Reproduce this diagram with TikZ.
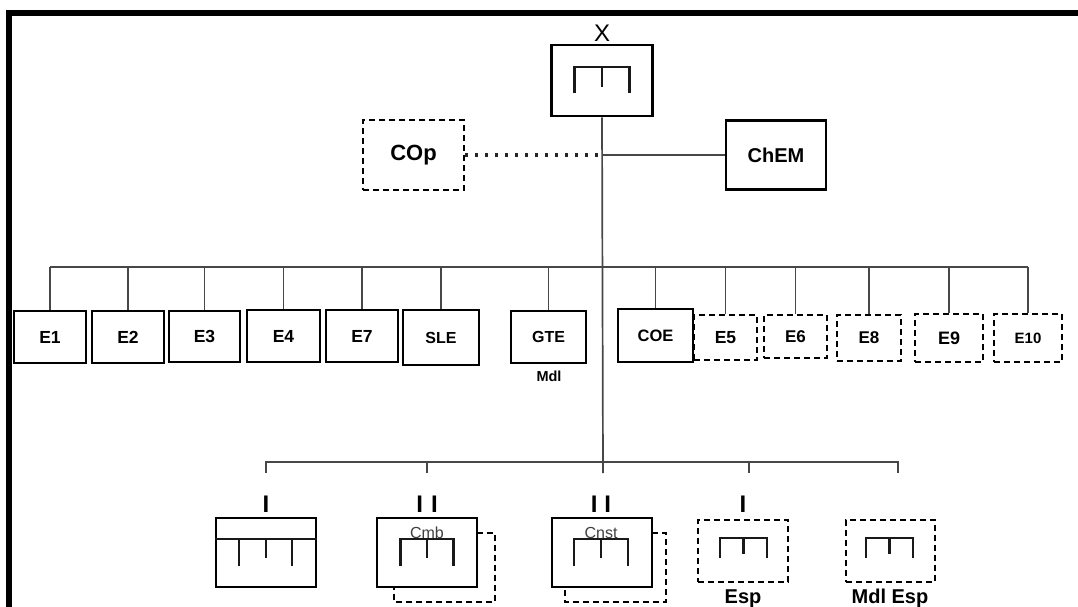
\documentclass[tikz,border=0pt]{standalone}
\usepackage{fontspec}
\setmainfont{Liberation Sans}
\newcommand\mybrk[5]{%
  \draw[brk] (#1-#3,#2+#4) -- (#1-#3,#2) -- (#1+#3,#2) -- (#1+#3,#2+#4);
  \draw[brk] (#1,#2) -- (#1,#2+#5);}
\begin{document}
\begin{tikzpicture}[x=1pt,y=-1pt,
  box/.style={draw, line width=2.7pt, inner sep=0pt, fill=white},
  dbox/.style={box, line width=2.5pt, dash pattern=on 6pt off 4pt},
  sz/.style 2 args={minimum width=#1pt, minimum height=#2pt},
  fs/.style={font=\bfseries\fontsize{#1}{#1}\selectfont},
  conn/.style={draw=black!72, line width=1.7pt},
  dotconn/.style={draw=black!85, line width=3.2pt, dash pattern=on 3.2pt off 6.8pt},
  brk/.style={line width=2.8pt, draw=black!90},
  shadowline/.style={line width=2.5pt, dash pattern=on 6pt off 4pt},
  romanmark/.style={font=\bfseries\fontsize{24}{24}\selectfont, inner sep=0pt, anchor=base},
  smalltext/.style={font=\fontsize{16}{16}\selectfont, text=black!75, inner sep=0pt, anchor=base},
]
\useasboundingbox (0,0) rectangle (1078,606);
% frame
\draw[line width=6pt] (9,610) -- (9,13) -- (1082,13);

% top
\node[box, sz={101}{71}] (top) at (602,80.5) {};
\mybrk{602}{67}{27.5}{26}{20}
\node[font=\fontsize{24}{24}\selectfont, inner sep=0pt] (xl) at (602,33) {X};

\node[dbox, sz={101}{70}, fs=22] (cop) at (413.5,155) {COp};
\node[box, sz={100}{69}, fs=20] (chem) at (776,155) {ChEM};

% coordinates
\coordinate (mbus) at (603,267);
\coordinate (bbus) at (603,462);
\coordinate (s1) at (266,473);
\coordinate (s2) at (427,473);
\coordinate (s3) at (603,473);
\coordinate (s4) at (749,473);
\coordinate (s5) at (898,473);

% middle row
\node[box, sz={72}{52}, fs=17.5] (e1) at (50,337) {E1};
\node[box, sz={72}{52}, fs=17.5] (e2) at (128,337) {E2};
\node[box, sz={71}{51}, fs=17.5] (e3) at (204.5,336.5) {E3};
\node[box, sz={73}{52}, fs=17.5] (e4) at (283.5,336) {E4};
\node[box, sz={72}{52}, fs=17.5] (e7) at (362,336) {E7};
\node[box, sz={76}{55}, fs=16] (sle) at (441,337.5) {SLE};
\node[box, sz={75}{52}, fs=16] (gte) at (548.5,337) {GTE};
\node[fs=14.5, inner sep=0pt] (mdl) at (549,376) {Mdl};
\node[box, sz={75}{53}, fs=16.5] (coe) at (655.5,335.5) {COE};
\node[dbox, sz={63}{45}, fs=17.5] (e5) at (725.5,337.5) {E5};
\node[dbox, sz={63}{43}, fs=17] (e6) at (795.5,336.5) {E6};
\node[dbox, sz={64}{46}, fs=17] (e8) at (869,338) {E8};
\node[dbox, sz={68}{48}, fs=18] (e9) at (949,338) {E9};
\node[dbox, sz={68}{48}, fs=15] (e10) at (1028,338) {E10};

% bottom row
\node[box, sz={100}{69}] (b1) at (266,552.5) {};
\draw[brk] (b1.west |- 0,539) -- (b1.east |- 0,539);
\draw[brk] (239,539) -- (239,566);
\draw[brk] (266,539) -- (266,558);
\draw[brk] (292,539) -- (292,566);

\draw[shadowline] (477,533) -- (495,533) -- (495,602) -- (394,602) -- (394,587);
\node[box, sz={100}{69}] (cmb) at (427,552.5) {};
\mybrk{427}{539}{26.5}{27}{19}
\node[smalltext] (cmbt) at (427,538) {Cmb};

\draw[shadowline] (652,533) -- (666,533) -- (666,602) -- (565,602) -- (565,587);
\node[box, sz={100}{69}] (cnst) at (602,552.5) {};
\mybrk{601}{539}{27}{27}{19}
\node[smalltext] (cnstt) at (601,538) {Cnst};

\node[dbox, sz={90}{62}] (esp) at (743,551) {};
\mybrk{743.5}{538}{23.5}{20}{16}
\node[fs=20, inner sep=0pt, anchor=base] (espl) at (743,603) {Esp};

\node[dbox, sz={89}{62}] (mdlesp) at (890.5,551) {};
\mybrk{889.5}{538}{23.5}{20}{16}
\node[fs=20, inner sep=0pt, anchor=base] (mdlespl) at (890,603) {Mdl Esp};

% I / II marks
\node[romanmark] (m1) at (266,512) {I};
\node[romanmark] (m2) at (427,512) {I\hspace{8pt}I};
\node[romanmark] (m3) at (601,512) {I\hspace{7pt}I};
\node[romanmark] (m4) at (743,512) {I};

% connectors
\draw[conn] (top.south) -- (s3);
\draw[dotconn] (cop.east) -- (cop.east -| top.south);
\draw[conn] (cop.east -| top.south) -- (chem.west);

\draw[conn] (e1.north |- mbus) -- (e10.north |- mbus);
\foreach \n in {e1,e2,e3,e4,e7,sle,gte,coe,e5,e6,e8,e9,e10}
  \draw[conn] (\n.north) -- (\n.north |- mbus);

\draw[conn] (s1) -- (s1 |- bbus) -- (s5 |- bbus) -- (s5);
\draw[conn] (s2) -- (s2 |- bbus);
\draw[conn] (s4) -- (s4 |- bbus);
\end{tikzpicture}
\end{document}
